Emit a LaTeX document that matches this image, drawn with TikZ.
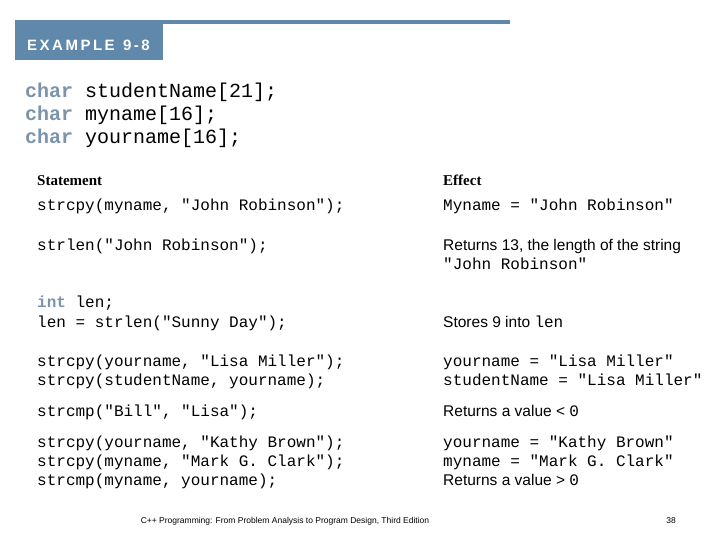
\documentclass[tikz,border=0pt]{standalone}
\usepackage{xcolor}
\usepackage{fontspec}
\setmainfont{Liberation Serif}
\setsansfont{Liberation Sans}
\setmonofont{Liberation Mono}
\usetikzlibrary{positioning}
\definecolor{hdblue}{HTML}{6088AA}
\definecolor{kwblue}{HTML}{7B93AC}
\tikzset{
  code/.style={anchor=base west, inner sep=0pt, font=\ttfamily\fontsize{16}{23}\selectfont},
  bigcode/.style={anchor=base west, inner sep=0pt, font=\ttfamily\fontsize{20}{23}\selectfont},
  effect/.style={anchor=base west, inner sep=0pt, font=\sffamily\fontsize{15.5}{19}\selectfont},
  colhead/.style={anchor=base west, inner sep=0pt, font=\bfseries\fontsize{15}{18}\selectfont},
}
\newcommand{\kw}[1]{\textcolor{kwblue}{\textbf{#1}}}
\newcommand{\ct}[1]{{\ttfamily\fontsize{16}{19}\selectfont #1}}
\begin{document}
\begin{tikzpicture}[x=1pt,y=-1pt]
  \useasboundingbox (0,0) rectangle (720,540);
  % header
  \fill[hdblue] (15,20) rectangle (510,24);
  \fill[hdblue] (15,20) rectangle (163,60);
  \node[anchor=base west, inner sep=0pt, text=white, font=\sffamily\bfseries\fontsize{15}{18}\selectfont] (title) at (27,51) {E\,X\,A\,M\,P\,L\,E\ \ 9\,-\,8};
  % declarations
  \node[bigcode] (decl1) at (25,98) {\kw{char} studentName[21];};
  \node[bigcode] (decl2) at (25,121) {\kw{char} myname[16];};
  \node[bigcode] (decl3) at (25,144) {\kw{char} yourname[16];};
  % table headings
  \node[colhead] (hstmt) at (37,186) {Statement};
  \node[colhead] (heff) at (443,186) {Effect};
  % rows
  \node[code] (s1) at (37,211) {strcpy(myname, "John Robinson");};
  \node[code] (e1) at (443,211) {Myname = "John Robinson"};
  \node[code] (s2) at (37,250) {strlen("John Robinson");};
  \node[effect] (e2a) at (443,250) {Returns 13, the length of the string};
  \node[code] (e2b) at (443,269) {"John Robinson"};
  \node[code] (s3a) at (37,307) {\kw{int} len;};
  \node[code] (s3b) at (37,327) {len = strlen("Sunny Day");};
  \node[effect] (e3) at (443,327) {Stores 9 into \ct{len}};
  \node[code] (s4a) at (37,366) {strcpy(yourname, "Lisa Miller");};
  \node[code] (s4b) at (37,385) {strcpy(studentName, yourname);};
  \node[code] (e4a) at (443,366) {yourname = "Lisa Miller"};
  \node[code] (e4b) at (443,385) {studentName~=~"Lisa~Miller"};
  \node[code] (s5) at (37,416) {strcmp("Bill", "Lisa");};
  \node[effect] (e5) at (443,416) {Returns a value < \ct{0}};
  \node[code] (s6a) at (37,447) {strcpy(yourname, "Kathy Brown");};
  \node[code] (s6b) at (37,466) {strcpy(myname, "Mark G. Clark");};
  \node[code] (s6c) at (37,485) {strcmp(myname, yourname);};
  \node[code] (e6a) at (443,447) {yourname = "Kathy Brown"};
  \node[code] (e6b) at (443,466) {myname = "Mark G. Clark"};
  \node[effect] (e7) at (443,485) {Returns a value > \ct{0}};
  % footer
  \node[anchor=base, inner sep=0pt, font=\sffamily\fontsize{8.5}{10}\selectfont] (foot) at (285,523) {C++ Programming: From Problem Analysis to Program Design, Third Edition};
  \node[anchor=base, inner sep=0pt, font=\sffamily\fontsize{8.5}{10}\selectfont] (page) at (671,523) {38};
\end{tikzpicture}
\end{document}
